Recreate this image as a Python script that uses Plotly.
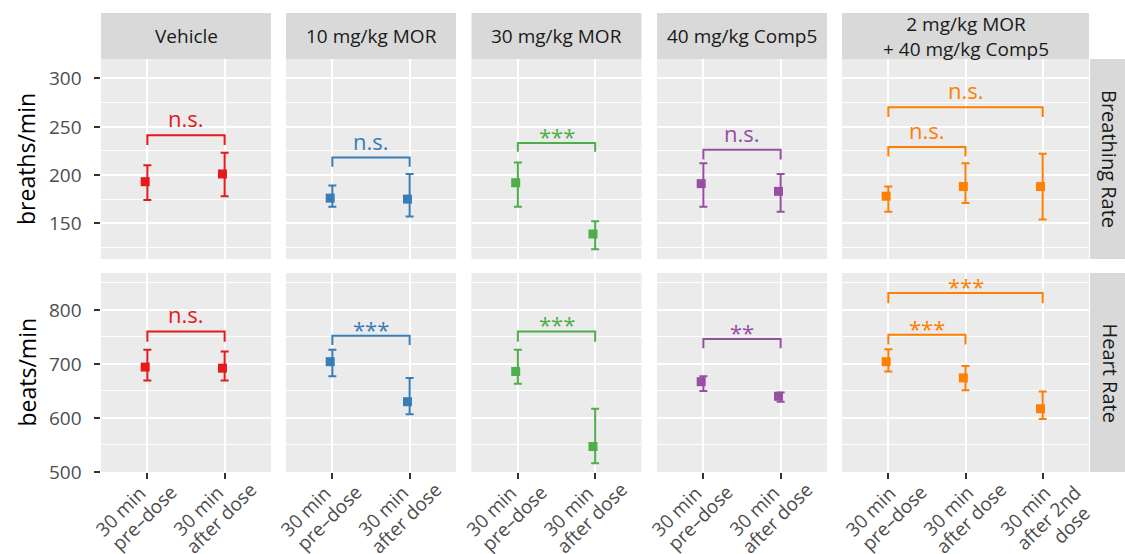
import plotly.graph_objects as go

# ---------------- data ----------------
groups = ["Vehicle", "10 mg/kg MOR", "30 mg/kg MOR", "40 mg/kg Comp5",
          "2 mg/kg MOR<br>+ 40 mg/kg Comp5"]
row_labels = ["Breathing Rate", "Heart Rate"]
y_titles = ["breaths/min", "beats/min"]

time_2 = ["30 min<br>pre–dose", "30 min<br>after dose"]
time_3 = ["30 min<br>pre–dose", "30 min<br>after dose", "30 min<br>after 2nd<br>dose"]
timepoints = [time_2, time_2, time_2, time_2, time_3]

# Breathing rate (breaths/min): mean, upper and lower error limits
br_mean  = [[193, 201], [176, 175], [192, 139], [191, 183], [178, 188, 188]]
br_upper = [[210, 223], [189, 201], [213, 152], [212, 201], [188, 212, 222]]
br_lower = [[174, 178], [167, 157], [167, 123], [167, 162], [162, 171, 154]]

# Heart rate (beats/min)
hr_mean  = [[694, 692], [704, 630], [686, 547], [667, 640], [704, 674, 617]]
hr_upper = [[726, 723], [726, 674], [726, 617], [677, 647], [727, 696, 649]]
hr_lower = [[669, 669], [677, 607], [663, 516], [650, 630], [686, 651, 598]]

# significance brackets: (from index, to index, bar y, tip y, label)
br_sig = [[(1, 2, 241, 231, "n.s.")],
          [(1, 2, 218, 208.6, "n.s.")],
          [(1, 2, 233, 224, "***")],
          [(1, 2, 226, 216, "n.s.")],
          [(1, 2, 229, 219, "n.s."), (1, 3, 270, 260, "n.s.")]]
hr_sig = [[(1, 2, 760, 741, "n.s.")],
          [(1, 2, 752, 735, "***")],
          [(1, 2, 760, 741, "***")],
          [(1, 2, 746, 729, "**")],
          [(1, 2, 754, 736, "***"), (1, 3, 831, 812, "***")]]

y_ranges = [[113, 320], [500, 868]]
y_major = [[150, 200, 250, 300], [500, 600, 700, 800]]
y_minor = [[125, 175, 225, 275], [550, 650, 750, 850]]

colors = ["#E41A1C", "#377EB8", "#4DAF4A", "#984EA3", "#FF7F00"]

# ---------------- layout geometry (pixels) ----------------
W, H = 1125, 554
col_px = [(101, 271), (286, 456), (471.5, 641.5), (657, 827), (842, 1089)]
row_px = [(59, 259), (273, 472)]
strip_top = (13, 59)
strip_right = (1090, 1140)
label_dx = [-26.5, -26.5, -26.5, -26.5, -17.5]   # first line centre offset from tick
label_y0 = 511                                 # first line centre (px from top)
line_step = (23, 7)                            # offset between successive lines
ylabel_right = 84                              # right edge of y tick labels (px)

FONT = "Open Sans"
PT_SHIFT = -0.028

def px_x(p):
    return p / W

def px_y(p):
    return 1 - p / H

fig = go.Figure()
layout = dict(
    template="none",
    width=W, height=H,
    margin=dict(l=0, r=0, t=0, b=0, autoexpand=False),
    paper_bgcolor="white",
    plot_bgcolor="#EBEBEB",
    showlegend=False,
    font=dict(family=FONT, color="#4D4D4D"),
)
annotations = []
shapes = []

data_rows = [(br_mean, br_upper, br_lower, br_sig), (hr_mean, hr_upper, hr_lower, hr_sig)]

for r in range(2):
    means, uppers, lowers, sigs = data_rows[r]
    for c in range(5):
        n = r * 5 + c + 1
        xname = "xaxis" if n == 1 else f"xaxis{n}"
        yname = "yaxis" if n == 1 else f"yaxis{n}"
        xref = "x" if n == 1 else f"x{n}"
        yref = "y" if n == 1 else f"y{n}"
        ncat = len(timepoints[c])
        xs = list(range(1, ncat + 1))
        col = colors[c]
        m = means[c]
        up = [u - v for u, v in zip(uppers[c], m)]
        lo = [v - l for l, v in zip(lowers[c], m)]

        layout[xname] = dict(
            domain=[px_x(col_px[c][0]), px_x(col_px[c][1])],
            anchor=yref,
            range=[0.4, ncat + 0.6],
            tickvals=xs,
            showticklabels=False,
            ticks="outside" if r == 1 else "",
            ticklen=6, tickwidth=1.6, tickcolor="#333333",
            showgrid=True, gridcolor="white", gridwidth=2,
            zeroline=False, showline=False, fixedrange=True, automargin=False,
        )
        layout[yname] = dict(
            domain=[px_y(row_px[r][1]), px_y(row_px[r][0])],
            anchor=xref,
            range=y_ranges[r],
            tickvals=y_major[r],
            showticklabels=False,
            ticks="outside" if c == 0 else "",
            ticklen=6, tickwidth=1.6, tickcolor="#333333",
            showgrid=True, gridcolor="white", gridwidth=2,
            minor=dict(tickvals=y_minor[r], showgrid=True, gridcolor="white",
                       gridwidth=1, ticks=""),
            zeroline=False, showline=False, fixedrange=True, automargin=False,
        )

        # y tick labels (left column only)
        if c == 0:
            for v in y_major[r]:
                annotations.append(dict(
                    x=px_x(ylabel_right), xref="paper", y=v, yref=yref,
                    text=str(v), showarrow=False, xanchor="right", yanchor="middle",
                    font=dict(size=19, color="#4D4D4D", family=FONT),
                ))

        # rotated category labels under the bottom row, one text per line
        if r == 1:
            for j, lab in enumerate(timepoints[c]):
                for k, line in enumerate(lab.split("<br>")):
                    annotations.append(dict(
                        x=xs[j], xref=xref,
                        y=px_y(label_y0 + k * line_step[1]), yref="paper",
                        xshift=label_dx[c] + k * line_step[0],
                        text=line, showarrow=False, textangle=-45,
                        xanchor="center", yanchor="middle",
                        font=dict(size=19, color="#4D4D4D", family=FONT),
                    ))

        # error bars
        fig.add_trace(go.Scatter(
            x=xs, y=m, mode="markers",
            marker=dict(size=2, color=col),
            error_y=dict(type="data", symmetric=False, array=up, arrayminus=lo,
                         color=col, thickness=2, width=4),
            xaxis=xref, yaxis=yref, hoverinfo="skip",
        ))
        # points
        fig.add_trace(go.Scatter(
            x=[x + PT_SHIFT for x in xs], y=m, mode="markers",
            marker=dict(size=9, color=col, symbol="square"),
            xaxis=xref, yaxis=yref,
        ))
        # significance brackets
        for (a, b, ybar, ytip, lab) in sigs[c]:
            fig.add_trace(go.Scatter(
                x=[a, a, b, b], y=[ytip, ybar, ybar, ytip], mode="lines",
                line=dict(color=col, width=2),
                xaxis=xref, yaxis=yref, hoverinfo="skip",
            ))
            star = lab.startswith("*")
            annotations.append(dict(
                x=(a + b) / 2, y=ybar, xref=xref, yref=yref,
                text=lab, showarrow=False, xanchor="center", yanchor="bottom",
                yshift=-10 if star else 0,
                font=dict(size=22, color=col, family=FONT),
            ))

# top strips
for c in range(5):
    shapes.append(dict(type="rect", xref="paper", yref="paper",
                       x0=px_x(col_px[c][0]), x1=px_x(col_px[c][1]),
                       y0=px_y(strip_top[1]), y1=px_y(strip_top[0]),
                       fillcolor="#D9D9D9", line=dict(width=0), layer="below"))
    annotations.append(dict(
        x=px_x((col_px[c][0] + col_px[c][1]) / 2),
        y=px_y((strip_top[0] + strip_top[1]) / 2),
        xref="paper", yref="paper", text=groups[c], showarrow=False,
        xanchor="center", yanchor="middle",
        font=dict(size=19, color="#1A1A1A", family=FONT),
    ))

# right strips + y titles
for r in range(2):
    shapes.append(dict(type="rect", xref="paper", yref="paper",
                       x0=px_x(strip_right[0]), x1=px_x(strip_right[1]),
                       y0=px_y(row_px[r][1]), y1=px_y(row_px[r][0]),
                       fillcolor="#D9D9D9", line=dict(width=0), layer="below"))
    annotations.append(dict(
        x=px_x(1110), y=px_y((row_px[r][0] + row_px[r][1]) / 2),
        xref="paper", yref="paper", text=row_labels[r], showarrow=False,
        textangle=90, xanchor="center", yanchor="middle",
        font=dict(size=20, color="#1A1A1A", family=FONT),
    ))
    annotations.append(dict(
        x=px_x(26), y=px_y((row_px[r][0] + row_px[r][1]) / 2),
        xref="paper", yref="paper", text=y_titles[r], showarrow=False,
        textangle=-90, xanchor="center", yanchor="middle",
        font=dict(size=23, color="#000000", family=FONT),
    ))

layout["annotations"] = annotations
layout["shapes"] = shapes
fig.update_layout(**layout)
fig.write_html(
    "out.html",
    config={"displayModeBar": False},
    post_script="document.body.style.margin='0';document.body.style.overflow='hidden';",
)
